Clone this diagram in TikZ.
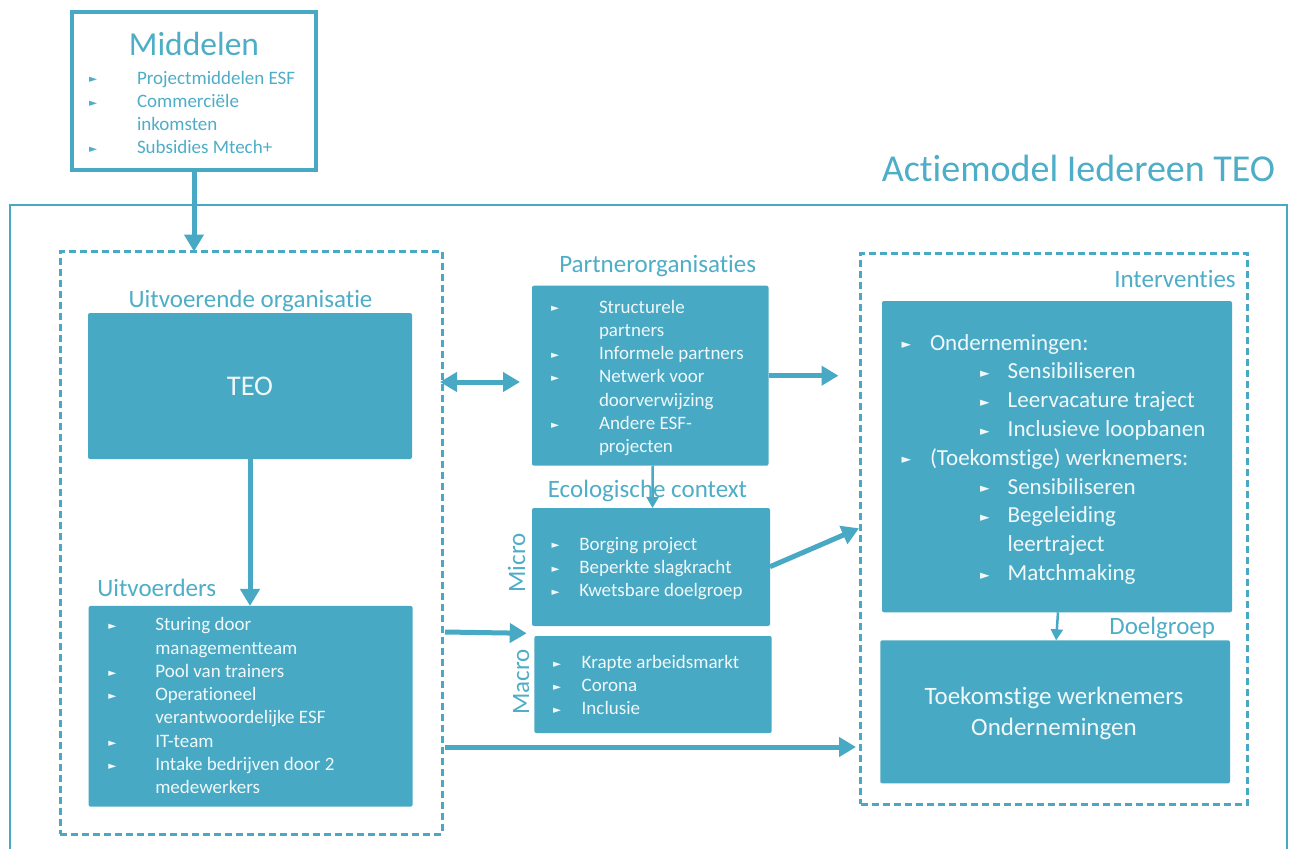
\documentclass[tikz,border=0pt]{standalone}
\usepackage{fontspec}
\setmainfont{Carlito}[Ligatures=NoCommon]
\newfontfamily\dejavu{DejaVu Sans}
\usetikzlibrary{arrows.meta,calc}
\definecolor{teal1}{RGB}{72,169,196}
\definecolor{lblc}{RGB}{78,173,199}
\definecolor{wtxt}{RGB}{240,248,250}
\newcommand\bulsize{10.5}
\newcommand\bul{\raisebox{0.06em}{\dejavu\fontsize{\bulsize}{\bulsize}\selectfont ►}}
\newcommand\itm[3]{\hspace*{#1}\makebox[#2][l]{\bul}#3}
\newcommand\fs[2]{\fontsize{#1}{#2}\selectfont}
\begin{document}
\begin{tikzpicture}[x=1pt,y=-1pt,
  every node/.style={inner sep=0pt,outer sep=0pt},
  fbox/.style={fill=teal1,draw=none,rounded corners=2pt},
  dbox/.style={draw=teal1,line width=3pt,dash pattern=on 7pt off 4pt},
  lbl/.style={text=lblc,font=\fs{25}{30}},
  list/.style={text=wtxt,anchor=base west},
  big/.style={draw=teal1,line width=5pt,-{Triangle[length=17pt,width=19pt]}},
  dbl/.style={draw=teal1,line width=5pt,{Triangle[length=17pt,width=19pt]}-{Triangle[length=17pt,width=19pt]}},
  small/.style={draw=teal1,line width=2.5pt,-{Triangle[length=11pt,width=12pt]}}]
\useasboundingbox (0,0) rectangle (1294,849);
\fill[white] (0,0) rectangle (1294,849);

% Middelen
\node[draw=teal1,line width=4pt,minimum width=244pt,minimum height=158pt] (middelen) at (194,91) {};
\node[text=lblc,font=\fs{33.5}{40},anchor=base] (midtitle) at (194,55) {Middelen};
\node[text=lblc,anchor=base west] (midlist) at (89,84) {\fs{19}{23.3}\begin{tabular}[t]{@{}l@{}}
\itm{0pt}{48pt}{Projectmiddelen ESF}\\
\itm{0pt}{48pt}{Commerciële}\\
\hspace*{48pt}inkomsten\\
\itm{0pt}{48pt}{Subsidies Mtech+}
\end{tabular}};

% title and frame
\node[text=lblc,font=\fs{38}{44},anchor=base east] (title) at (1275,181.7) {Actiemodel Iedereen TEO};
\node[draw=teal1,line width=2pt,minimum width=1277pt,minimum height=655pt] (frame) at (648.5,532.5) {};

% dashed boxes
\node[dbox,minimum width=382pt,minimum height=582.5pt] (leftbox) at (251,542.75) {};
\node[dbox,minimum width=386.5pt,minimum height=551pt] (rightbox) at (1053.75,528.5) {};

% left side
\node[lbl,anchor=base] (uolbl) at (250.5,307.3) {Uitvoerende organisatie};
\node[fbox,minimum width=324pt,minimum height=146pt,text=wtxt,font=\fs{28.5}{34}] (teo) at (250,386) {TEO};
\node[lbl,anchor=base west] (uitvlbl) at (97.3,596) {Uitvoerders};
\node[fbox,minimum width=324pt,minimum height=200.7pt] (uitv) at (250.6,706.3) {};
\node[list] (uitvlist) at (108.3,630.7) {\fs{19}{23.3}\begin{tabular}[t]{@{}l@{}}
\itm{0pt}{47pt}{Sturing door}\\
\hspace*{47pt}managementteam\\
\itm{0pt}{47pt}{Pool van trainers}\\
\itm{0pt}{47pt}{Operationeel}\\
\hspace*{47pt}verantwoordelijke ESF\\
\itm{0pt}{47pt}{IT-team}\\
\itm{0pt}{47pt}{Intake bedrijven door 2}\\
\hspace*{47pt}medewerkers
\end{tabular}};

% middle
\node[lbl,anchor=base] (plbl) at (657.7,272) {Partnerorganisaties};
\node[fbox,minimum width=236.5pt,minimum height=180pt] (partner) at (650.25,375.7) {};
\node[list] (plist) at (551,313) {\fs{19}{23.3}\begin{tabular}[t]{@{}l@{}}
\itm{0pt}{48pt}{Structurele}\\
\hspace*{48pt}partners\\
\itm{0pt}{48pt}{Informele partners}\\
\itm{0pt}{48pt}{Netwerk voor}\\
\hspace*{48pt}doorverwijzing\\
\itm{0pt}{48pt}{Andere ESF-}\\
\hspace*{48pt}projecten
\end{tabular}};

\node[lbl,anchor=base] (eclbl) at (647.5,497.3) {Ecologische context};
\node[fbox,minimum width=238pt,minimum height=118pt] (micro) at (651,567) {};
\node[list] (mlist) at (551.7,550) {\fs{19}{23.3}\begin{tabular}[t]{@{}l@{}}
\itm{0pt}{27.6pt}{Borging project}\\
\itm{0pt}{27.6pt}{Beperkte slagkracht}\\
\itm{0pt}{27.6pt}{Kwetsbare doelgroep}
\end{tabular}};
\node[lbl,rotate=90,anchor=base] (microlbl) at (525,563) {Micro};

\node[fbox,minimum width=237.4pt,minimum height=97pt] (macro) at (653,684.5) {};
\node[list] (malist) at (553,668.3) {\fs{19}{23.3}\begin{tabular}[t]{@{}l@{}}
\itm{0pt}{28.7pt}{Krapte arbeidsmarkt}\\
\itm{0pt}{28.7pt}{Corona}\\
\itm{0pt}{28.7pt}{Inclusie}
\end{tabular}};
\node[lbl,rotate=90,anchor=base] (macrolbl) at (529,682) {Macro};

% right
\node[lbl,anchor=base east] (intlbl) at (1235.7,287.7) {Interventies};
\node[fbox,minimum width=350pt,minimum height=311.3pt] (interv) at (1057,456.65) {};
\node[list] (ilist) at (901.7,350) {\renewcommand\bulsize{12.5}\fs{23}{28.8}\begin{tabular}[t]{@{}l@{}}
\itm{0pt}{28.3pt}{Ondernemingen:}\\
\itm{78.3pt}{27.7pt}{Sensibiliseren}\\
\itm{78.3pt}{27.7pt}{Leervacature traject}\\
\itm{78.3pt}{27.7pt}{Inclusieve loopbanen}\\
\itm{0pt}{28.3pt}{(Toekomstige) werknemers:}\\
\itm{78.3pt}{27.7pt}{Sensibiliseren}\\
\itm{78.3pt}{27.7pt}{Begeleiding}\\
\hspace*{106pt}leertraject\\
\itm{78.3pt}{27.7pt}{Matchmaking}
\end{tabular}};

\node[lbl,anchor=base east] (dlbl) at (1215,634.3) {Doelgroep};
\node[fbox,minimum width=349.7pt,minimum height=143pt] (doel) at (1055.15,711.8) {};
\node[text=wtxt,anchor=base] (dtext) at (1054,704) {\fs{25}{31}\begin{tabular}[t]{@{}c@{}}
Toekomstige werknemers\\
Ondernemingen
\end{tabular}};

% connectors
\coordinate (da) at (440,382);
\coordinate (db) at (520,382);
\coordinate (mi) at (859,528.3);
\coordinate (u1) at (445,632);
\coordinate (u1e) at (526.7,633.3);
\coordinate (u2) at (445,747);

\draw[big] (middelen.south) -- (middelen.south |- leftbox.north);
\draw[big] (teo.south) -- (teo.south |- uitv.north);
\draw[dbl] (da) -- (db);
\draw[big] (partner.east) -- ($(partner.east)+(70,0)$);
\draw[small] ($(partner.south)+(2.5,0)$) -- ($(micro.north)+(1.5,0)$);
\draw[big] ($(micro.east)+(0,-0.3)$) -- (mi);
\draw[big] (u1) -- (u1e);
\draw[big,shorten >=4.5pt] (u2) -- (rightbox.west |- u2);
\draw[small] ($(interv.south)+(1,0)$) -- ($(doel.north)+(1,0)$);
\end{tikzpicture}
\end{document}
